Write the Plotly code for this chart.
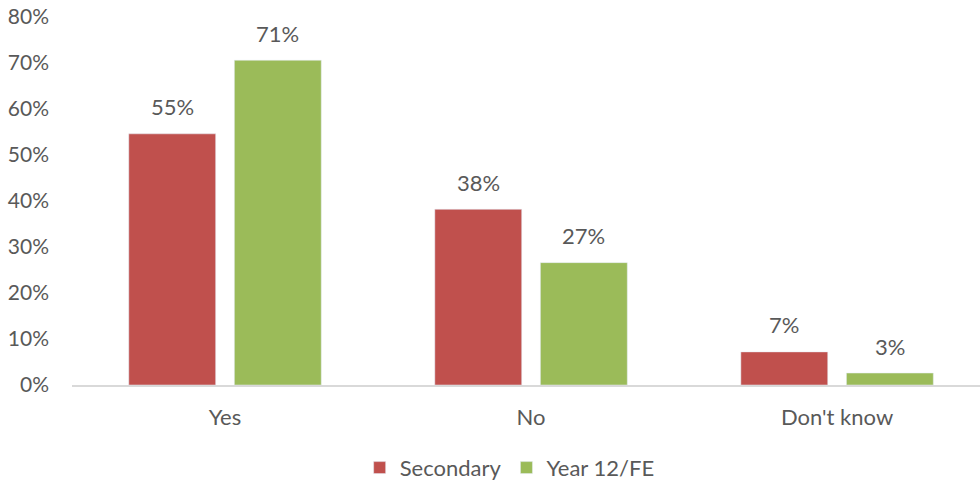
import plotly.graph_objects as go

categories = ["Yes", "No", "Don't know"]
secondary = [0.546, 0.382, 0.072]
year12_fe = [0.706, 0.266, 0.026]
secondary_labels = ["55%", "38%", "7%"]
year12_labels = ["71%", "27%", "3%"]

FONT = "Lato"
GREY = "#595959"
BARGAP = 0.31

fig = go.Figure()
fig.add_trace(go.Bar(name="Secondary", x=categories, y=secondary, marker_color="#C0504D"))
fig.add_trace(go.Bar(name="Year 12/FE", x=categories, y=year12_fe, marker_color="#9BBB59"))

# value labels above the bars
off = (1 - BARGAP) / 4
for i, cat in enumerate(categories):
    for dx, val, lab in [(-off, secondary[i], secondary_labels[i]), (off, year12_fe[i], year12_labels[i])]:
        fig.add_annotation(x=i + dx, y=val, text=lab, showarrow=False, yshift=27,
                           font=dict(family=FONT, size=22, color=GREY))

fig.update_layout(
    width=980, height=483,
    margin=dict(l=72, r=0, t=17, b=98, autoexpand=False),
    paper_bgcolor="white", plot_bgcolor="white",
    barmode="group", bargap=BARGAP, bargroupgap=0.177,
    font=dict(family=FONT, size=22, color=GREY),
    showlegend=True,
    legend=dict(orientation="h", x=0.482, xanchor="center", y=-0.225, yanchor="middle",
                font=dict(size=22), itemwidth=30),
)
# the original plot area runs a little past the right edge of the picture
fig.update_xaxes(range=[-0.5, 2.467], showline=True, linecolor="#D9D9D9", linewidth=1.5,
                 ticks="", ticklabelstandoff=12, showgrid=False, automargin=False)
fig.update_yaxes(range=[0, 0.8], dtick=0.1, tickformat=".0%", showgrid=False,
                 zeroline=False, ticks="", ticklabelstandoff=22, automargin=False,
                 tickfont=dict(size=21), ticklabeloverflow="allow")

# drop the default 8px body margin so the figure fills the window
fig.write_html("out.html", config={"displayModeBar": False},
               post_script="document.body.style.margin='0px';")
